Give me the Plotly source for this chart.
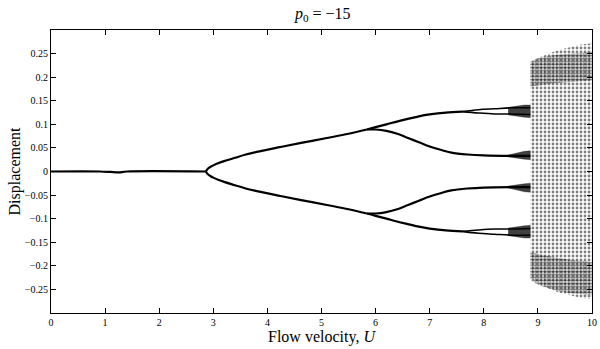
import plotly.graph_objects as go

# Trivial equilibrium branch (y = 0) up to the pitchfork point
u_trivial = [0.0, 0.9, 1.1, 1.25, 1.4, 2.86]
y_trivial = [0.0, 0.0, -0.001, -0.002, 0.0, 0.0]

# Symmetric pair of branches born at the pitchfork (upper half; lower is the mirror)
u_pitch = [2.86, 2.9, 2.95, 3.0, 3.1, 3.2, 3.4, 3.6, 3.83, 4.2, 4.6, 5.1, 5.5, 5.84]
y_pitch = [0.0, 0.006, 0.010, 0.013, 0.018, 0.022, 0.029, 0.036, 0.042, 0.051, 0.060, 0.071, 0.080, 0.089]

# Outer branch after the second split
u_outer = [5.84, 6.0, 6.2, 6.5, 6.8, 7.0, 7.3, 7.6]
y_outer = [0.089, 0.094, 0.100, 0.109, 0.117, 0.121, 0.125, 0.127]

# Period-doubled pair on the outer branch
u_pair = [7.6, 7.9, 8.2, 8.5, 8.86]
y_pair_hi = [0.127, 0.131, 0.133, 0.135, 0.135]
y_pair_lo = [0.127, 0.124, 0.122, 0.122, 0.121]

# Inner branch after the second split
u_inner = [5.84, 6.0, 6.2, 6.4, 6.6, 6.8, 7.0, 7.2, 7.4, 7.7, 8.0, 8.5, 8.86]
y_inner = [0.089, 0.089, 0.086, 0.080, 0.071, 0.062, 0.053, 0.046, 0.040, 0.036, 0.034, 0.033, 0.033]

# Fans where the periodic branches smear out just before chaos
u_fan = [8.45, 8.6, 8.75, 8.86]
fan_outer_top = [0.136, 0.139, 0.141, 0.141]
fan_outer_bot = [0.120, 0.117, 0.115, 0.114]
fan_inner_top = [0.035, 0.039, 0.043, 0.044]
fan_inner_bot = [0.031, 0.028, 0.026, 0.025]

# Chaotic band envelope
u_chaos = [8.86, 8.9, 9.0, 9.2, 9.4, 9.6, 9.8, 10.0]
chaos_top = [0.226, 0.232, 0.240, 0.250, 0.258, 0.264, 0.269, 0.272]
chaos_bot = [-0.222, -0.228, -0.237, -0.248, -0.257, -0.263, -0.268, -0.271]
# Denser sub-bands near the edges of the attractor
dense_top_hi = [0.232, 0.236, 0.240, 0.245, 0.248, 0.250, 0.252, 0.253]
dense_top_lo = [0.180, 0.180, 0.182, 0.185, 0.188, 0.190, 0.192, 0.193]
dense_bot_hi = [-0.172, -0.172, -0.175, -0.180, -0.184, -0.187, -0.190, -0.192]
dense_bot_lo = [-0.228, -0.233, -0.240, -0.248, -0.254, -0.258, -0.260, -0.262]

x_ticks = list(range(0, 11))
y_ticks = [-0.25, -0.2, -0.15, -0.1, -0.05, 0, 0.05, 0.1, 0.15, 0.2, 0.25]
y_tick_text = ["\u22120.25", "\u22120.2", "\u22120.15", "\u22120.1", "\u22120.05", "0",
               "0.05", "0.1", "0.15", "0.2", "0.25"]

FONT = "Liberation Serif"
fig = go.Figure()


def band(u, top, bot, size, solidity):
    fig.add_trace(go.Scatter(
        x=u + u[::-1], y=top + bot[::-1], mode="lines", fill="toself",
        line=dict(width=0, color="rgba(0,0,0,0)"), fillcolor="rgba(0,0,0,0)",
        fillpattern=dict(shape=".", fgcolor="black", bgcolor="rgba(0,0,0,0)",
                         size=size, solidity=solidity),
        hoverinfo="skip", showlegend=False))


def smear(u, top, bot):
    fig.add_trace(go.Scatter(
        x=u + u[::-1], y=top + bot[::-1], mode="lines", fill="toself",
        line=dict(width=0.5, color="rgba(0,0,0,0.5)"), fillcolor="rgba(0,0,0,0.75)",
        hoverinfo="skip", showlegend=False))


def curve(u, y, width=2.2):
    fig.add_trace(go.Scatter(x=u, y=y, mode="lines", line_shape="spline",
                             line=dict(color="black", width=width),
                             hoverinfo="skip", showlegend=False))


# chaotic region
band(u_chaos, chaos_top, chaos_bot, 4, 0.38)
band(u_chaos, dense_top_hi, dense_top_lo, 3, 0.65)
band(u_chaos, dense_bot_hi, dense_bot_lo, 3, 0.65)

for s in (1, -1):
    m = lambda v: [s * a for a in v]
    smear(u_fan, m(fan_outer_top), m(fan_outer_bot))
    smear(u_fan, m(fan_inner_top), m(fan_inner_bot))
    curve(u_pitch, m(y_pitch))
    curve(u_outer, m(y_outer))
    curve(u_pair, m(y_pair_hi), 1.6)
    curve(u_pair, m(y_pair_lo), 1.6)
    curve(u_inner, m(y_inner))

curve(u_trivial, y_trivial)

axis_common = dict(showline=True, linecolor="black", linewidth=1, mirror="allticks",
                   ticks="inside", ticklen=5, tickcolor="black", showgrid=False,
                   zeroline=False, ticklabeloverflow="allow",
                   tickfont=dict(family=FONT, size=10, color="black"))

fig.update_layout(
    width=600, height=349,
    margin=dict(l=51, r=3, t=30, b=36),
    paper_bgcolor="white", plot_bgcolor="white",
    title=dict(text="<i>p</i><sub>0</sub> = \u221215", x=0.538, xanchor="center",
               y=0.962, yanchor="middle", font=dict(family=FONT, size=16, color="black")),
    xaxis=dict(range=[0, 10], tickvals=x_ticks, ticktext=[str(t) for t in x_ticks],
               **axis_common),
    yaxis=dict(range=[-0.3, 0.3], tickvals=y_ticks, ticktext=y_tick_text,
               title=dict(text="Displacement", standoff=0,
                          font=dict(family=FONT, size=16, color="black")),
               **axis_common),
    annotations=[dict(text="Flow velocity, <i>U</i>", xref="paper", yref="paper",
                      x=0.5, y=-0.085, xanchor="center", yanchor="middle",
                      showarrow=False, font=dict(family=FONT, size=16, color="black"))],
)

fig.write_html("out.html")
